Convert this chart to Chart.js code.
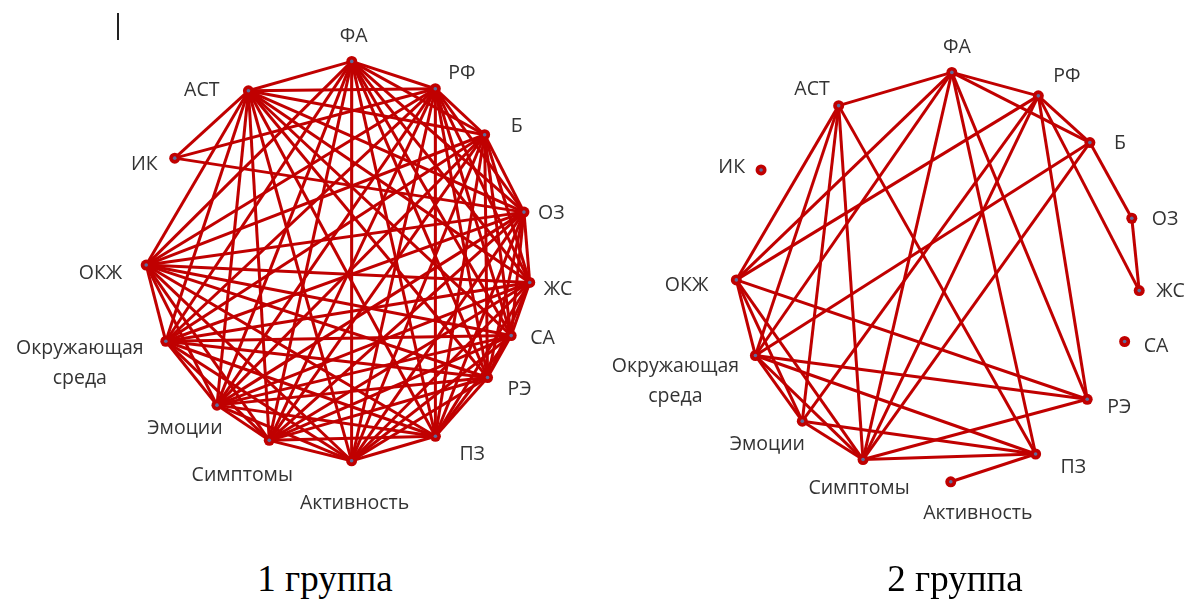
<!DOCTYPE html>
<html><head><meta charset="utf-8">
<script src="https://cdn.jsdelivr.net/npm/chart.js@4"></script>
<style>
body{margin:0;background:#fff;width:1195px;height:601px;overflow:hidden;position:relative}
canvas{position:absolute}
.cap{position:absolute;font-family:"Liberation Serif","Times New Roman",serif;font-size:37px;color:#000;transform:translateX(-50%);white-space:nowrap;line-height:1}
.cursor{position:absolute;left:117px;top:13px;width:2px;height:27px;background:#222}
</style></head>
<body>
<div class="cursor"></div>
<canvas id="g1" width="676" height="530" style="left:0;top:0"></canvas>
<canvas id="g2" width="680" height="560" style="left:600px;top:0"></canvas>
<div class="cap" style="left:325px;top:560px">1 группа</div>
<div class="cap" style="left:955px;top:560px">2 группа</div>
<script>
// ---------- DATA ----------
const nodeNames = ['ФА','РФ','Б','ОЗ','ЖС','СА','РЭ','ПЗ','Активность','Симптомы','Эмоции','Окружающая среда','ОКЖ','ИК','АСТ'];
// polar layout of nodes on the circle (angle in degrees, radius relative)
const angles1 = [86.1, 60.8, 41.1, 15.1, -6.1, -23.1, -37.8, -60.9, -86.1, -111, -130.1, -155.2, 180.9, 147.4, 117.5];
const radii1  = [1.027, 1.014, 0.989, 0.979, 0.98, 0.957, 0.962, 1.018, 1.017, 0.975, 0.955, 0.964, 0.975, 0.985, 0.986];
const angles2 = [86.7, 61.6, 42, 17.1, -3.9, -19.3, -39.8, -61.7, -87, -112.8, -133.6, -156.9, 180.8, 149, 120.5];
const radii2  = [1.02, 1.025, 1.0, 0.995, 0.99, 0.97, 0.95, 1.0, 1.02, 0.985, 0.99, 0.995, 1.01, 1.035, 0.99];
// edges: index pairs into nodeNames
const edges1 = [
 [0,1],[0,2],[0,3],[0,4],[0,5],[0,6],[0,7],[0,8],[0,9],[0,10],[0,11],[0,12],[0,14],
 [1,2],[1,3],[1,4],[1,5],[1,6],[1,7],[1,8],[1,9],[1,10],[1,11],[1,12],[1,13],[1,14],
 [2,3],[2,4],[2,5],[2,6],[2,7],[2,8],[2,9],[2,10],[2,11],[2,12],[2,14],
 [3,4],[3,5],[3,6],[3,7],[3,8],[3,9],[3,10],[3,11],[3,12],[3,13],[3,14],
 [4,5],[4,6],[4,7],[4,8],[4,9],[4,10],[4,11],[4,12],[4,14],
 [5,6],[5,7],[5,8],[5,9],[5,10],[5,11],[5,12],[5,14],
 [6,7],[6,8],[6,9],[6,10],[6,11],[6,12],[6,14],
 [7,8],[7,9],[7,10],[7,11],[7,12],[7,14],
 [8,9],[8,10],[8,11],[8,12],[8,14],
 [9,10],[9,11],[9,12],[9,14],
 [10,11],[10,12],[10,14],
 [11,12],[11,14],
 [12,14],
 [13,14]
];
const edges2 = [
 [14,0],[14,12],[14,11],[14,10],[14,9],[14,7],
 [0,1],[0,2],[0,12],[0,11],[0,9],[0,7],[0,6],
 [1,2],[1,4],[1,6],[1,12],[1,10],[1,9],
 [2,3],[2,11],[2,9],
 [3,4],
 [12,11],[12,10],[12,9],[12,6],
 [11,10],[11,9],[11,6],[11,7],
 [10,9],[10,7],
 [9,6],[9,7],
 [7,8]
];

// ---------- STYLE / LAYOUT ----------
const EDGE = '#C00000';
const DOT = '#5d6c9c';
const LABEL_FONT = '19.5px "Open Sans", "Noto Sans", sans-serif';
const LABEL_COLOR = '#333333';
// label offsets in pixels from node: [dx, dy, align]
const labelPos1 = [[2,-25,'center'],[13,-15,'left'],[26,-8,'left'],[14,1,'left'],[14,7,'left'],[19,3,'left'],[20,12,'left'],[24,18,'left'],[3,43,'center'],[-27,35,'center'],[-32,23,'center'],[-86,7,'center'],[-24,8,'right'],[-17,6,'right'],[-29,0,'right']];
const labelPos2 = [[5,-25,'center'],[15,-19,'left'],[24,1,'left'],[20,1,'left'],[17,1,'left'],[19,5,'left'],[20,8,'left'],[25,13,'left'],[27,32,'center'],[-4,29,'center'],[-35,23,'center'],[-80,11,'center'],[-28,6,'right'],[-16,-2,'right'],[-9,-16,'right']];

function pts(angles, radii){
  return angles.map((a,i)=>({x: radii[i]*Math.cos(a*Math.PI/180), y: radii[i]*Math.sin(a*Math.PI/180)}));
}

function labelPlugin(labelPos){
  return {
    id:'nodeLabels',
    afterDatasetsDraw(chart){
      const ctx = chart.ctx, xs = chart.scales.x, ys = chart.scales.y;
      const nodes = chart.data.datasets[1].data;
      ctx.save();
      ctx.font = LABEL_FONT; ctx.fillStyle = LABEL_COLOR; ctx.textBaseline = 'middle';
      nodes.forEach((p,i)=>{
        const px = xs.getPixelForValue(p.x), py = ys.getPixelForValue(p.y);
        const [dx,dy,al] = labelPos[i];
        ctx.textAlign = al;
        const lines = nodeNames[i].split(' ');
        lines.forEach((t,k)=>ctx.fillText(t, px+dx, py+dy+k*30));
      });
      ctx.restore();
    }
  };
}

function makeChart(id, angles, radii, edges, labelPos, xr, yr){
  const P = pts(angles, radii);
  const ds = [
    {data:P, pointRadius:1.8, pointBackgroundColor:DOT, pointBorderWidth:0, showLine:false, order:0},
    {data:P, pointRadius:5.5, pointBackgroundColor:EDGE, pointBorderWidth:0, showLine:false, order:1}
  ];
  edges.forEach(([a,b])=>{
    ds.push({data:[P[a],P[b]], showLine:true, borderColor:EDGE, borderWidth:3, pointRadius:0, order:2, fill:false});
  });
  return new Chart(document.getElementById(id), {
    type:'scatter',
    data:{datasets:ds},
    options:{
      responsive:false, animation:false, events:[],
      layout:{padding:0},
      plugins:{legend:{display:false}, tooltip:{enabled:false}},
      scales:{
        x:{type:'linear', min:xr[0], max:xr[1], display:false},
        y:{type:'linear', min:yr[0], max:yr[1], display:false}
      }
    },
    plugins:[labelPlugin(labelPos)]
  });
}

makeChart('g1', angles1, radii1, edges1, labelPos1, [-1.69,1.69], [-1.34,1.31]);
makeChart('g2', angles2, radii2, edges2, labelPos2, [-340/205,340/205], [-283/205,277/205]);
</script>
</body></html>
